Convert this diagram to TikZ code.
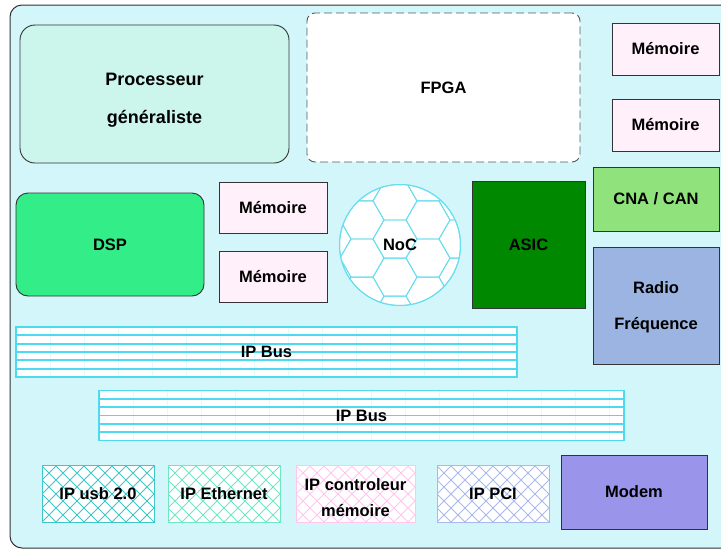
\documentclass[tikz,border=0pt]{standalone}
\usepackage{fontspec}
\setmainfont{Liberation Sans}
\usetikzlibrary{calc}
\definecolor{bgc}{HTML}{D2F6F9}
\definecolor{edge}{HTML}{333333}
\definecolor{procc}{HTML}{CCF5EB}
\definecolor{memc}{HTML}{FFF0FA}
\definecolor{dspc}{HTML}{33EE88}
\definecolor{asicc}{HTML}{008800}
\definecolor{cnac}{HTML}{90E27C}
\definecolor{rfc}{HTML}{9BB4E1}
\definecolor{modemc}{HTML}{9A94EA}
\definecolor{busc}{HTML}{4DD9F0}
\definecolor{hexc}{HTML}{6ADDF0}
\definecolor{usbc}{HTML}{3FC6C8}
\definecolor{ethc}{HTML}{6FE6C4}
\definecolor{ctrlc}{HTML}{FFC6EE}
\definecolor{pcic}{HTML}{A9B9EE}
\tikzset{
  lbl/.style={font=\bfseries\fontsize{16.5}{20}\selectfont, text=black, align=center, inner sep=0pt},
  blk/.style={lbl, draw=edge, line width=0.9pt, rectangle},
  hatch/.style={lbl, fill=white, draw=#1, line width=1pt, path picture={
     \foreach \k in {-6,...,16}{
       \draw[#1, line width=1pt] ($(path picture bounding box.south west)+(\k*14pt,0pt)$) -- ++(80pt,80pt);
       \draw[#1, line width=1pt] ($(path picture bounding box.south west)+(\k*14pt,0pt)$) -- ++(-80pt,80pt);
     }}},
  bus/.style={lbl, fill=white, draw=busc, line width=1.2pt, path picture={
     \foreach \k in {1,...,17}{
       \draw[busc!15, line width=0.6pt] ($(path picture bounding box.north west)+(\k*34pt,0pt)$) -- ++(0pt,-60pt);
     }
     \foreach \k in {1,...,5}{
       \draw[busc, line width=1.7pt] ($(path picture bounding box.north west)+(0pt,-\k*8.33pt)$) -- ++(700pt,0pt);
     }}},
  nocstyle/.style={circle, fill=white, draw=hexc, line width=1pt, minimum size=121pt, inner sep=0pt},
  hexline/.style={hexc, line width=0.9pt}
}
\begin{document}
\begin{tikzpicture}[x=1pt,y=-1pt]
\useasboundingbox (0,0) rectangle (721,550);
\begin{scope}
\clip (0,0) rectangle (721,550);
\draw[fill=bgc, draw=edge, line width=1pt, rounded corners=12pt] (10,5) rectangle (745,548);
\end{scope}

\node[blk, fill=procc, rounded corners=15pt, minimum width=269pt, minimum height=138pt] (proc) at (154.5,94) {};
\node[lbl, font=\bfseries\fontsize{18}{38}\selectfont] (proctext) at ($(proc.center)+(0,6)$) {Processeur\\généraliste};
\node[blk, fill=white, draw=black!65, dashed, dash pattern=on 8pt off 4pt, rounded corners=8pt,
      minimum width=273pt, minimum height=149pt] (fpga) at (443.5,87.5) {FPGA};
\node[blk, fill=memc, minimum width=107pt, minimum height=52pt] (mem1) at (665.5,49) {Mémoire};
\node[blk, fill=memc, minimum width=107pt, minimum height=52pt] (mem2) at (665.5,125) {Mémoire};

\node[blk, fill=dspc, rounded corners=12pt, minimum width=188pt, minimum height=103pt] (dsp) at (110,244.5) {DSP};
\node[blk, fill=memc, minimum width=108pt, minimum height=51pt] (mem3) at (273,207.5) {Mémoire};
\node[blk, fill=memc, minimum width=108pt, minimum height=51pt] (mem4) at (273,276.5) {Mémoire};

% NoC: circle with hexagonal mesh
\node[nocstyle] (noc) at (400,245) {};
\coordinate (hexo) at ($(noc.center)+(-5pt,6pt)$);
\begin{scope}
\clip (noc.center) circle (60pt);
\foreach \i in {-3,...,3}{
  \foreach \j in {-3,...,3}{
    \pgfmathsetmacro\hx{\i*33}
    \pgfmathsetmacro\hy{\j*38.1+mod(abs(\i),2)*19.05}
    \draw[hexline] ($(hexo)+(\hx pt,\hy pt)$) ++(22pt,0pt) -- ++(-11pt,19.05pt) -- ++(-22pt,0pt)
       -- ++(-11pt,-19.05pt) -- ++(11pt,-19.05pt) -- ++(22pt,0pt) -- cycle;
  }
}
\end{scope}
\draw[hexc, line width=1pt] (noc.center) circle (60.5pt);
\node[lbl] (noclbl) at (noc.center) {NoC};

\node[blk, fill=asicc, minimum width=113pt, minimum height=127pt] (asic) at (528.5,244.5) {ASIC};
\node[blk, fill=cnac, minimum width=126pt, minimum height=64pt] (cna) at (656,199) {CNA / CAN};
\node[blk, fill=rfc, minimum width=126pt, minimum height=117pt] (rf) at (656,305.5) {};
\node[lbl, font=\bfseries\fontsize{16.5}{36}\selectfont] (rftext) at ($(rf.center)+(0,2)$) {Radio\\Fréquence};

\node[bus, minimum width=501pt, minimum height=50pt] (bus1) at (266.5,352) {IP Bus};
\node[bus, minimum width=525pt, minimum height=50pt] (bus2) at (361.5,415.5) {IP Bus};

\node[hatch=usbc, minimum width=112pt, minimum height=57pt] (usb) at (98,493.5) {IP usb 2.0};
\node[hatch=ethc, minimum width=112pt, minimum height=57pt] (eth) at (224,493.5) {IP Ethernet};
\node[hatch=ctrlc, minimum width=119pt, minimum height=57pt] (ctrl) at (355.5,493.5) {};
\node[lbl, font=\bfseries\fontsize{16.5}{26}\selectfont] (ctrltext) at ($(ctrl.center)+(0,4)$) {IP controleur\\mémoire};
\node[hatch=pcic, minimum width=112pt, minimum height=57pt] (pci) at (493,493.5) {IP PCI};
\node[blk, fill=modemc, minimum width=146pt, minimum height=74pt] (modem) at (634,492) {Modem};
\end{tikzpicture}
\end{document}
